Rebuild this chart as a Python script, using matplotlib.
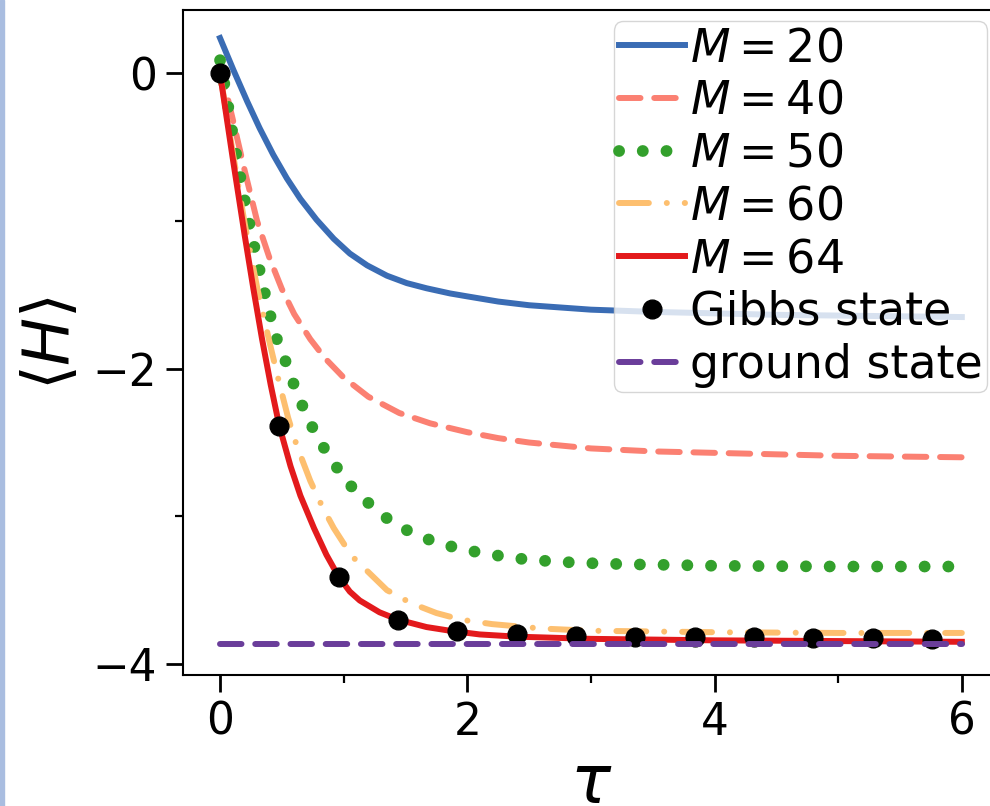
import numpy as np
import matplotlib
matplotlib.use("Agg")
from matplotlib import pyplot as plt
from matplotlib.ticker import MultipleLocator
from matplotlib.patches import Rectangle

# energy <H> versus imaginary time tau for several bond dimensions M
tau_m20 = [0, 0.11, 0.22, 0.32, 0.43, 0.54, 0.65, 0.78, 0.92, 1.05, 1.19, 1.35,
           1.51, 1.67, 1.86, 2.0, 2.25, 2.5, 2.75, 3.0, 3.5, 4.0, 4.5, 5.0, 5.5, 6.0]
val_m20 = [0.24, 0.02, -0.19, -0.37, -0.55, -0.71, -0.85, -0.99, -1.12, -1.22,
           -1.30, -1.37, -1.42, -1.455, -1.49, -1.51, -1.545, -1.57, -1.585,
           -1.60, -1.615, -1.625, -1.635, -1.64, -1.645, -1.65]

tau_m40 = [0, 0.1, 0.2, 0.3, 0.4, 0.5, 0.6, 0.73, 0.85, 1.0, 1.2, 1.45, 1.7, 2.0,
           2.25, 2.5, 2.75, 3.0, 3.5, 4.0, 4.5, 5.0, 5.5, 6.0]
val_m40 = [0.05, -0.3, -0.66, -1.0, -1.25, -1.46, -1.63, -1.80, -1.93, -2.06,
           -2.19, -2.30, -2.37, -2.43, -2.47, -2.50, -2.52, -2.54, -2.56, -2.57,
           -2.58, -2.59, -2.595, -2.60]

tau_m50 = [0, 0.05, 0.1, 0.15, 0.2, 0.25, 0.3, 0.36, 0.4, 0.46, 0.53, 0.58, 0.65,
           0.73, 0.82, 0.92, 1.03, 1.16, 1.31, 1.45, 1.63, 1.8, 2.0, 2.2, 2.4,
           2.6, 2.9, 3.3, 3.7, 4.0, 5.0, 6.0]
val_m50 = [0.09, -0.14, -0.40, -0.64, -0.86, -1.07, -1.26, -1.48, -1.62, -1.80,
           -1.95, -2.07, -2.22, -2.37, -2.51, -2.64, -2.77, -2.88, -2.99, -3.07,
           -3.14, -3.19, -3.23, -3.26, -3.285, -3.30, -3.315, -3.325, -3.33,
           -3.335, -3.34, -3.34]

tau_m60 = [0, 0.1, 0.2, 0.3, 0.4, 0.48, 0.55, 0.62, 0.73, 0.83, 0.92, 1.02, 1.1,
           1.19, 1.35, 1.55, 1.75, 1.95, 2.2, 2.6, 3.0, 3.5, 4.0, 5.0, 6.0]
val_m60 = [0.0, -0.52, -1.02, -1.45, -1.82, -2.10, -2.33, -2.52, -2.76, -2.94,
           -3.08, -3.21, -3.30, -3.37, -3.50, -3.59, -3.655, -3.70, -3.73, -3.76,
           -3.775, -3.78, -3.785, -3.79, -3.79]

tau_m64 = [0, 0.1, 0.2, 0.27, 0.34, 0.41, 0.48, 0.57, 0.65, 0.76, 0.86, 0.96,
           1.05, 1.13, 1.29, 1.44, 1.67, 1.86, 2.1, 2.4, 3.0, 4.0, 5.0, 6.0]
val_m64 = [0.0, -0.56, -1.10, -1.46, -1.80, -2.11, -2.39, -2.66, -2.86, -3.08,
           -3.26, -3.41, -3.51, -3.57, -3.65, -3.70, -3.75, -3.775, -3.80, -3.815,
           -3.83, -3.84, -3.845, -3.85]

tau_gibbs = [0, 0.48, 0.96, 1.44, 1.92, 2.40, 2.88, 3.36, 3.84, 4.32, 4.80, 5.28, 5.76]
val_gibbs = [0.0, -2.39, -3.41, -3.70, -3.78, -3.80, -3.81, -3.815, -3.82, -3.82,
             -3.825, -3.825, -3.83]

tau_ground = [0, 6]
val_ground = [-3.865, -3.865]

labels = [r"$M = 20$", r"$M = 40$", r"$M = 50$", r"$M = 60$", r"$M = 64$",
          "Gibbs state", "ground state"]

fs = 31.5
fs_leg = 33

fig = plt.figure(figsize=(9.9, 8.06), dpi=100)
ax = fig.add_axes([0.1848, 0.1625, 0.8242, 0.8251])

lw = 4.3
ax.plot(tau_m20, val_m20, color="#3a6cb4", lw=lw, label=labels[0])
ax.plot(tau_m40, val_m40, color="#fb8072", lw=lw, dashes=(3.6, 2.3),
        dash_capstyle="round", label=labels[1])
ax.plot(tau_m50, val_m50, color="#33a02c", lw=8.5, dashes=(0.01, 2.0),
        dash_capstyle="round", label=labels[2])
ax.plot(tau_m60, val_m60, color="#fdbf6f", lw=lw, dashes=(5.0, 3.0, 0.01, 3.0),
        dash_capstyle="round", label=labels[3])
ax.plot(tau_m64, val_m64, color="#e31a1c", lw=lw, label=labels[4])
ax.plot(tau_gibbs, val_gibbs, "o", color="black", ms=13.5, label=labels[5])
ax.plot(tau_ground, val_ground, color="#6a3d9a", lw=lw, dashes=(3.6, 2.3),
        dash_capstyle="round", label=labels[6])

ax.set_xlim(-0.3, 6.3)
ax.set_ylim(-4.075, 0.43)
ax.xaxis.set_major_locator(MultipleLocator(2))
ax.xaxis.set_minor_locator(MultipleLocator(1))
ax.yaxis.set_major_locator(MultipleLocator(2))
ax.yaxis.set_minor_locator(MultipleLocator(1))
ax.tick_params(which="major", length=12.5, width=2, labelsize=fs, pad=6)
ax.tick_params(which="minor", length=6, width=1.6)
for sp in ax.spines.values():
    sp.set_linewidth(1.5)

ax.set_xlabel(r"$\tau$", fontsize=48, labelpad=5)
ax.set_ylabel(r"$\langle H \rangle$", fontsize=46, labelpad=8)

ax.legend(loc="upper right", fontsize=fs_leg, framealpha=0.8, borderaxespad=0.25,
          handlelength=1.44, handletextpad=0.12, borderpad=0.1,
          labelspacing=0.17)

# thin coloured strip along the left edge
fig.patches.append(Rectangle((0, 0), 4 / 990, 1, transform=fig.transFigure,
                             color="#a9bde0", zorder=-1))

fig.savefig("out.png", dpi=100)
